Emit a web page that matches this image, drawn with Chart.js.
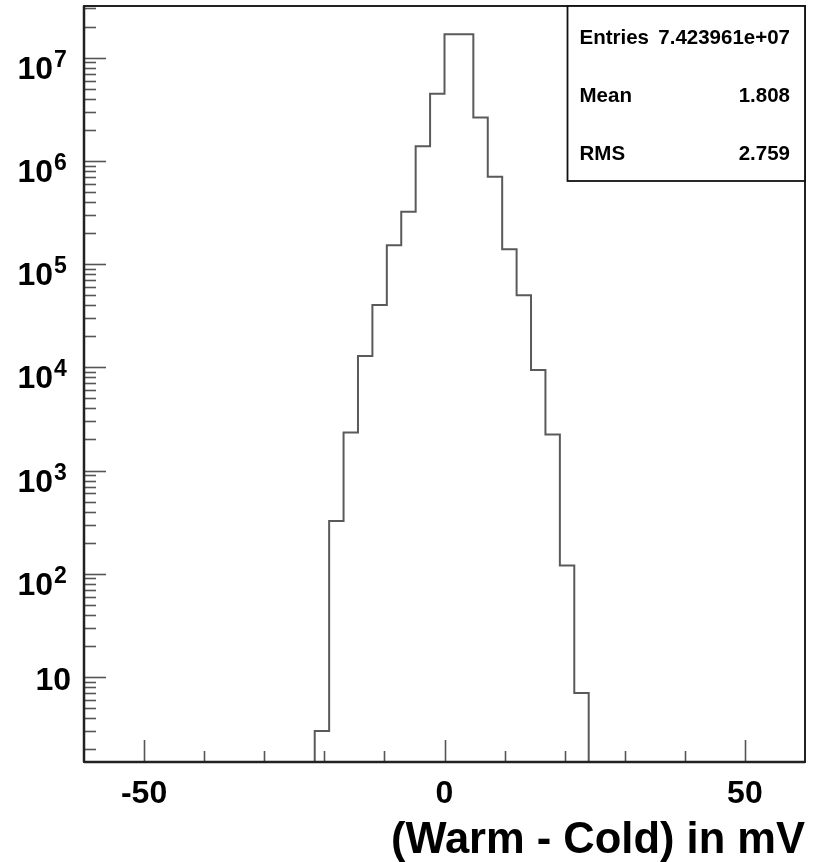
<!DOCTYPE html>
<html>
<head>
<meta charset="utf-8">
<script src="https://cdn.jsdelivr.net/npm/chart.js@4/dist/chart.umd.min.js"></script>
<style>
  html, body { margin: 0; padding: 0; background: #fff; }
  canvas { display: block; }
</style>
</head>
<body>
<canvas id="c" width="817" height="862"></canvas>
<script>
// Histogram bins (lower/upper edges, mV) and counts per bin
const binEdges = [-21.6, -19.2, -16.8, -14.4, -12.0, -9.6, -7.2, -4.8, -2.4, 0.0,
                  2.4, 4.8, 7.2, 9.6, 12.0, 14.4, 16.8, 19.2, 21.6, 24.0];
const counts = [3, 324, 2340, 12900, 40200, 152000, 322000, 1390000, 4480000,
                16900000, 16900000, 2640000, 703000, 139000, 49900, 9420, 2240, 120, 7];

// Axis ticks and labels
const xMajorTicks = [-50, 0, 50];
const xTickLabels = ['-50', '0', '50'];
const xMinorTicks = [-40, -30, -20, -10, 10, 20, 30, 40];
const yLabelExponents = [1, 2, 3, 4, 5, 6, 7];
const xTitle = '(Warm - Cold) in mV';

// Statistics box
const statNames = ['Entries', 'Mean', 'RMS'];
const statValues = ['7.423961e+07', '1.808', '2.759'];

const X_MIN = -60, X_MAX = 60, Y_MIN = 1.5, Y_MAX = 3.17e7;
const FONT = '"Liberation Sans", Arial, Helvetica, sans-serif';

// Build the step outline of the histogram from edges and counts
function outlinePoints() {
  const floor = 1e-3; // below the axis; clipped by the chart area
  const pts = [{ x: binEdges[0], y: floor }];
  counts.forEach((c, i) => {
    pts.push({ x: binEdges[i], y: c });
    pts.push({ x: binEdges[i + 1], y: c });
  });
  pts.push({ x: binEdges[binEdges.length - 1], y: floor });
  return pts;
}

const frameAndLabels = {
  id: 'frameAndLabels',
  afterDatasetsDraw(chart) {
    const ctx = chart.ctx;
    const a = chart.chartArea;
    const xs = chart.scales.x, ys = chart.scales.y;
    const seg = (x1, y1, x2, y2) => { ctx.beginPath(); ctx.moveTo(x1, y1); ctx.lineTo(x2, y2); ctx.stroke(); };

    ctx.save();
    // Tick marks, pointing into the frame
    ctx.strokeStyle = '#555';
    ctx.lineWidth = 1.6;
    for (let d = 0; d <= 7; d++) {
      for (let m = 1; m <= 9; m++) {
        const v = m * Math.pow(10, d);
        if (v < ys.min || v > ys.max) continue;
        const py = Math.round(ys.getPixelForValue(v)) + 0.5;
        seg(a.left, py, a.left + (m === 1 ? 22 : 12), py);
      }
    }
    xMajorTicks.forEach(t => {
      const px = Math.round(xs.getPixelForValue(t)) + 0.5;
      seg(px, a.bottom, px, a.bottom - 22);
    });
    xMinorTicks.forEach(t => {
      const px = Math.round(xs.getPixelForValue(t)) + 0.5;
      seg(px, a.bottom, px, a.bottom - 11);
    });

    // Frame
    ctx.strokeStyle = '#222';
    ctx.lineWidth = 2;
    ctx.strokeRect(a.left, a.top, a.right - a.left, a.bottom - a.top);
    ctx.lineWidth = 2.5;
    seg(a.left, a.top, a.left, a.bottom);
    seg(a.left, a.bottom, a.right, a.bottom);

    // Y labels: powers of ten
    ctx.fillStyle = '#000';
    ctx.textBaseline = 'alphabetic';
    yLabelExponents.forEach(e => {
      const py = ys.getPixelForValue(Math.pow(10, e));
      ctx.font = 'bold 32px ' + FONT;
      ctx.textAlign = 'right';
      if (e === 1) {
        ctx.fillText('10', a.left - 13, py + 13);
      } else {
        ctx.fillText('10', a.left - 31, py + 21);
        ctx.font = 'bold 23px ' + FONT;
        ctx.textAlign = 'left';
        ctx.fillText(String(e), a.left - 30, py + 9);
      }
    });

    // X labels
    ctx.font = 'bold 32px ' + FONT;
    ctx.textAlign = 'center';
    xMajorTicks.forEach((t, i) => {
      ctx.fillText(xTickLabels[i], xs.getPixelForValue(t), a.bottom + 41);
    });

    // X title
    ctx.font = 'bold 43.5px ' + FONT;
    ctx.textAlign = 'right';
    ctx.fillText(xTitle, a.right, a.bottom + 91);

    // Statistics box
    const bx = a.right - 237.5, by = a.top, bw = 237.5, bh = 175;
    ctx.fillStyle = '#fff';
    ctx.fillRect(bx, by, bw, bh);
    ctx.strokeStyle = '#111';
    ctx.lineWidth = 1.8;
    ctx.strokeRect(bx, by, bw, bh);
    ctx.fillStyle = '#000';
    ctx.font = 'bold 20.5px ' + FONT;
    const baselines = [37.5, 95.5, 153.5];
    statNames.forEach((n, i) => {
      ctx.textAlign = 'left';
      ctx.fillText(n, bx + 12, by + baselines[i]);
      ctx.textAlign = 'right';
      ctx.fillText(statValues[i], bx + bw - 15, by + baselines[i]);
    });
    ctx.restore();
  }
};

new Chart(document.getElementById('c'), {
  type: 'line',
  data: {
    datasets: [{
      data: outlinePoints(),
      borderColor: '#5a5a5a',
      borderWidth: 2,
      pointRadius: 0,
      tension: 0,
      fill: false,
      clip: 0
    }]
  },
  options: {
    responsive: false,
    animation: false,
    events: [],
    layout: { padding: { left: 84, right: 12, top: 6, bottom: 100 } },
    plugins: { legend: { display: false }, tooltip: { enabled: false } },
    scales: {
      x: { type: 'linear', min: X_MIN, max: X_MAX, display: false },
      y: { type: 'logarithmic', min: Y_MIN, max: Y_MAX, display: false }
    }
  },
  plugins: [frameAndLabels]
});
</script>
</body>
</html>
